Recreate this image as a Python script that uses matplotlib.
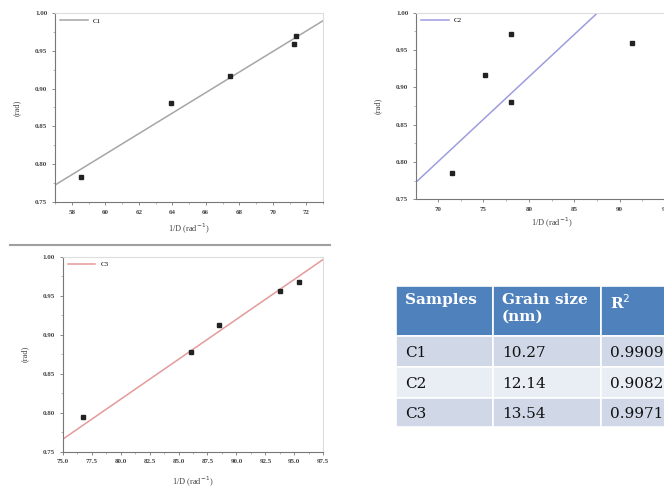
import matplotlib
matplotlib.use("Agg")
import matplotlib.pyplot as plt
import numpy as np
from matplotlib.lines import Line2D
from matplotlib.patches import Rectangle
from matplotlib.ticker import MultipleLocator, AutoMinorLocator, FormatStrFormatter

# ---- data ----
c1_x = [58.55, 63.93, 67.45, 71.27, 71.39]
c1_y = [0.783, 0.881, 0.917, 0.959, 0.970]
c1_fit = [0.01358, -0.0016]   # slope, intercept

c2_x = [71.57, 75.23, 78.05, 78.05, 91.30]
c2_y = [0.785, 0.917, 0.971, 0.881, 0.960]
c2_fit = [0.01137, 0.0043]

c3_x = [76.74, 86.09, 88.50, 93.78, 95.38]
c3_y = [0.795, 0.878, 0.912, 0.956, 0.967]
c3_fit = [0.01025, -0.0028]

table_cols = ["Samples", "Grain size\n(nm)", "R$^{2}$"]
samples = ["C1", "C2", "C3"]
grain_size = ["10.27", "12.14", "13.54"]
r_squared = ["0.9909", "0.9082", "0.9971"]

W, H = 664, 491
fig = plt.figure(figsize=(W / 100, H / 100), dpi=100)
fig.patch.set_facecolor("white")

def px_axes(left, top, right, bottom):
    return fig.add_axes([left / W, 1 - bottom / H, (right - left) / W, (bottom - top) / H])

def style(ax, xlim, xstep, xfmt, xlabel, ylabel, xpad, ypad):
    ax.set_xlim(*xlim)
    ax.set_ylim(0.75, 1.00)
    ax.xaxis.set_major_locator(MultipleLocator(xstep))
    ax.xaxis.set_minor_locator(AutoMinorLocator(2))
    ax.yaxis.set_major_locator(MultipleLocator(0.05))
    ax.yaxis.set_minor_locator(AutoMinorLocator(2))
    ax.xaxis.set_major_formatter(FormatStrFormatter(xfmt))
    ax.yaxis.set_major_formatter(FormatStrFormatter("%.2f"))
    for s in ["left", "bottom"]:
        ax.spines[s].set_color("#777777")
        ax.spines[s].set_linewidth(0.8)
    for s in ["top", "right"]:
        ax.spines[s].set_color("#dddddd")
        ax.spines[s].set_linewidth(0.8)
    ax.tick_params(which="major", length=2.5, width=0.6, color="#777777", pad=3)
    ax.tick_params(which="minor", length=1.5, width=0.5, color="#999999")
    for lab in ax.get_xticklabels() + ax.get_yticklabels():
        lab.set_fontfamily("Liberation Serif")
        lab.set_fontsize(5)
        lab.set_fontweight("bold")
        lab.set_color("#444444")
    ax.set_xlabel(xlabel, fontsize=6, family="Liberation Serif", color="#444444", labelpad=xpad)
    ax.set_ylabel(ylabel, fontsize=6, family="Liberation Serif", color="#444444", labelpad=ypad)

def draw(ax, xs, ys, fit, color, label):
    xl = np.array(ax.get_xlim())
    ax.plot(xl, fit[0] * xl + fit[1], color=color, lw=1.1, label=label, zorder=2)
    ax.plot(xs, ys, ls="none", marker="s", ms=2.4, color="#222222", zorder=3)
    ax.legend(loc="upper left", frameon=False, handlelength=4,
              borderaxespad=0.3, prop={"family": "Liberation Serif", "size": 5})

ax1 = px_axes(55, 13, 323, 202)
style(ax1, (57, 73), 2, "%d", "1/D (rad$^{-1}$)", "(rad)", 5, 10)
draw(ax1, c1_x, c1_y, c1_fit, "#a6a6a6", "C1")

ax2 = px_axes(416, 12.7, 687, 199.3)
style(ax2, (67.6, 97.4), 5, "%d", "1/D (rad$^{-1}$)", "(rad)", 3, 10)
draw(ax2, c2_x, c2_y, c2_fit, "#9d9de0", "C2")

ax3 = px_axes(62.7, 256.7, 323.3, 451.7)
style(ax3, (75, 97.5), 2.5, "%.1f", "1/D (rad$^{-1}$)", "(rad)", 8, 10)
draw(ax3, c3_x, c3_y, c3_fit, "#e59a9a", "C3")

# separator line
fig.add_artist(Line2D([10 / W, 330 / W], [1 - 245 / H, 1 - 245 / H],
                      color="#a0a0a0", lw=1.5, transform=fig.transFigure))

# ---- table (drawn in pixel-unit axes) ----
tl, tt, tr, tb = 396, 286, 701, 427.3
tax = fig.add_axes([tl / W, 1 - tb / H, (tr - tl) / W, (tb - tt) / H])
tax.set_xlim(tl, tr)
tax.set_ylim(tb, tt)
tax.set_axis_off()
col_edges = [396, 492.7, 601.3, 701]
row_edges = [286, 336, 367.3, 398.3, 427.3]
rows = [table_cols] + [[s, g, r] for s, g, r in zip(samples, grain_size, r_squared)]
body_colors = ["#d0d8e8", "#e9edf4", "#d0d8e8"]
for ri, row in enumerate(rows):
    for ci, txt in enumerate(row):
        x0, x1 = col_edges[ci], col_edges[ci + 1]
        y0, y1 = row_edges[ri], row_edges[ri + 1]
        fc = "#4f81bd" if ri == 0 else body_colors[ri - 1]
        tax.add_patch(Rectangle((x0, y0), x1 - x0, y1 - y0, facecolor=fc,
                                edgecolor="white", lw=1.2, clip_on=False))
        if ri == 0:
            tax.text(x0 + 9, y0 + 7, txt, color="white", fontweight="bold",
                     family="DejaVu Serif", fontsize=11, ha="left", va="top",
                     linespacing=1.25, clip_on=False)
        else:
            tax.text(x0 + 9, (y0 + y1) / 2 + 1, txt, color="#111111",
                     family="DejaVu Serif", fontsize=11, ha="left", va="center",
                     clip_on=False)

fig.savefig("out.png", dpi=100, facecolor="white")
